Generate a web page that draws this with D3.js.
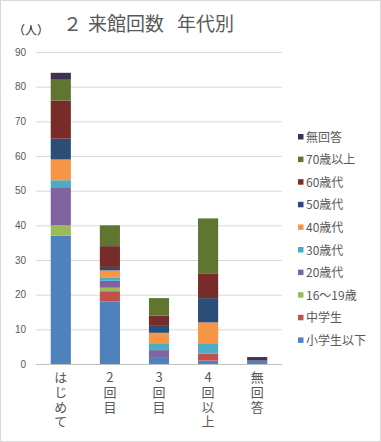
<!DOCTYPE html>
<html>
<head>
<meta charset="utf-8">
<script src="https://cdn.jsdelivr.net/npm/d3@7"></script>
<style>
  body { margin: 0; background: #fff; }
  svg { display: block; font-family: "Noto Sans CJK JP", "Noto Sans", sans-serif; }
</style>
</head>
<body>
<svg id="chart" width="381" height="442"></svg>
<script>
// categories (x axis)
const categories = ["はじめて", "2回目", "3回目", "4回以上", "無回答"];

// series, bottom to top
const seriesNames = ["小学生以下", "中学生", "16～19歳", "20歳代", "30歳代", "40歳代", "50歳代", "60歳代", "70歳以上", "無回答"];
const seriesColors = ["#4F81BD", "#C0504D", "#9BBB59", "#8064A2", "#4BACC6", "#F79646", "#2C4D75", "#772C2A", "#5F7530", "#403152"];

// values per series, in category order
const v小学生以下 = [37, 18, 2, 1, 1];
const v中学生 = [0, 3, 0, 2, 0];
const v16to19 = [3, 1, 0, 0, 0];
const v20歳代 = [11, 2, 2, 0, 0];
const v30歳代 = [2, 1, 2, 3, 0];
const v40歳代 = [6, 2, 3, 6, 0];
const v50歳代 = [6, 1, 2, 7, 0];
const v60歳代 = [11, 6, 3, 7, 0];
const v70歳以上 = [6, 6, 5, 16, 0];
const v無回答 = [2, 0, 0, 0, 1];

const yTicks = [0, 10, 20, 30, 40, 50, 60, 70, 80, 90];

const allValues = [v小学生以下, v中学生, v16to19, v20歳代, v30歳代, v40歳代, v50歳代, v60歳代, v70歳以上, v無回答];

const rows = categories.map((c, i) => {
  const r = { cat: c };
  seriesNames.forEach((s, j) => { r[s] = allValues[j][i]; });
  return r;
});

const svg = d3.select("#chart");

// outer border
svg.append("rect")
  .attr("x", 0.5).attr("y", 0.5)
  .attr("width", 380).attr("height", 441)
  .attr("fill", "#fff").attr("stroke", "#d9d9d9");

const x = d3.scaleBand().domain(categories).range([36, 282]).paddingInner(0.59).paddingOuter(0.3);
const y = d3.scaleLinear().domain([0, 90]).range([364, 52]);

// gridlines
svg.append("g")
  .selectAll("line")
  .data(yTicks)
  .join("line")
  .attr("x1", 36).attr("x2", 282)
  .attr("y1", d => y(d) + 0.5).attr("y2", d => y(d) + 0.5)
  .attr("stroke", d => d === 0 ? "#bfbfbf" : "#d9d9d9");

// y axis labels
const yAxis = d3.axisLeft(y).tickValues(yTicks).tickSize(0).tickPadding(0);
svg.append("g")
  .attr("transform", "translate(26,0)")
  .call(yAxis)
  .call(g => g.select(".domain").remove())
  .call(g => g.selectAll("text")
    .attr("fill", "#595959")
    .style("font-size", "10px")
    .style("font-family", "'Liberation Sans', Arial, sans-serif"));

// stacked bars
const stack = d3.stack().keys(seriesNames)(rows);
svg.append("g")
  .selectAll("g")
  .data(stack)
  .join("g")
  .attr("fill", (d, i) => seriesColors[i])
  .selectAll("rect")
  .data(d => d)
  .join("rect")
  .attr("x", d => x(d.data.cat))
  .attr("width", x.bandwidth())
  .attr("y", d => y(d[1]))
  .attr("height", d => y(d[0]) - y(d[1]));

// x labels, written vertically
svg.append("g")
  .selectAll("text")
  .data(categories)
  .join("text")
  .attr("x", d => x(d) + x.bandwidth() / 2)
  .attr("y", 371)
  .attr("fill", "#595959")
  .style("font-size", "13px")
  .style("writing-mode", "vertical-rl")
  .style("text-orientation", "upright")
  .style("letter-spacing", "1.6px")
  .text(d => d);

// title
const title = svg.append("text")
  .attr("y", 31)
  .attr("fill", "#595959")
  .style("font-size", "19px");
title.append("tspan").attr("x", 63).text("２");
title.append("tspan").attr("x", 88).text("来館回数");
title.append("tspan").attr("x", 177).text("年代別");

// unit label
svg.append("text")
  .attr("x", 13).attr("y", 35)
  .attr("fill", "#262626")
  .style("font-size", "12px")
  .text("（人）");

// legend, top item is last series
const legendItems = seriesNames.map((s, i) => ({ name: s, color: seriesColors[i] })).reverse();
const lg = svg.append("g")
  .selectAll("g")
  .data(legendItems)
  .join("g")
  .attr("transform", (d, i) => `translate(298,${137 + i * 22.6})`);
lg.append("rect")
  .attr("x", 0).attr("y", -3)
  .attr("width", 5.5).attr("height", 5.5)
  .attr("fill", d => d.color);
lg.append("text")
  .attr("x", 8).attr("y", 4.5)
  .attr("fill", "#595959")
  .style("font-size", "12px")
  .text(d => d.name);
</script>
</body>
</html>
